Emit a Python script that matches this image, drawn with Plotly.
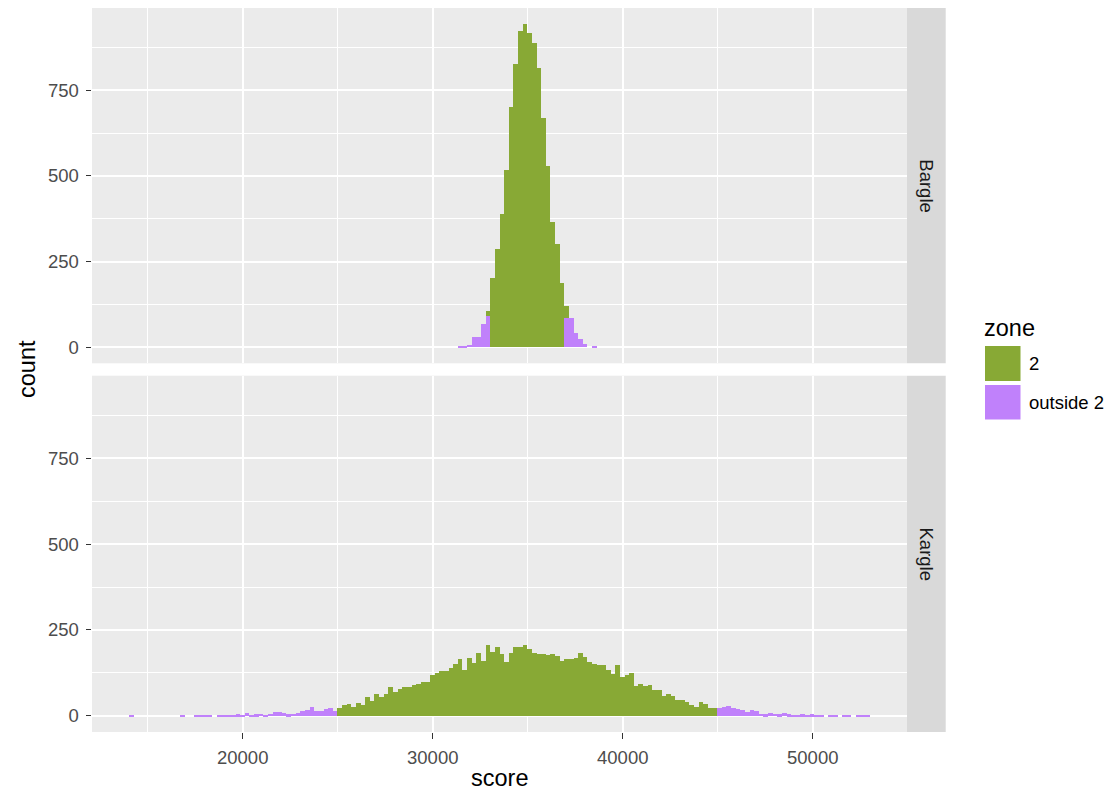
import numpy as np
import plotly.graph_objects as go

# ---------------- data ----------------
facets = ["Bargle", "Kargle"]
zones = ["2", "outside 2"]
zone_colors = {"2": "#88A935", "outside 2": "#C081FB"}

# histogram binning (160 bins shared by both facets)
BIN_START = 14018.0
BIN_WIDTH = 243.7
N_BINS = 160

# Bargle: counts for bins 71..100 (all other bins empty)
bargle_first_bin = 71
bargle_zone2 = [0, 0, 0, 0, 0, 0, 14, 203, 288, 390, 518, 701, 826, 923, 943,
                916, 888, 815, 669, 528, 365, 300, 188, 34, 0, 0, 0, 0, 0, 0]
bargle_outside = [2, 2, 6, 29, 29, 68, 92, 0, 0, 0, 0, 0, 0, 0, 0,
                  0, 0, 0, 0, 0, 0, 0, 0, 86, 84, 40, 23, 8, 0, 3]

# Kargle: zone "2" covers bins 45..126
kargle_zone2_first_bin = 45
kargle_zone2 = [23, 31, 36, 26, 38, 33, 55, 45, 63, 55,
                63, 85, 71, 80, 86, 86, 92, 93, 99, 98,
                120, 125, 130, 132, 140, 152, 165, 135, 169, 155,
                185, 159, 206, 187, 200, 180, 158, 185, 200, 200,
                208, 195, 185, 181, 181, 178, 180, 176, 160, 167,
                167, 170, 185, 172, 157, 153, 150, 148, 134, 124,
                148, 115, 119, 126, 88, 94, 88, 90, 77, 75,
                58, 63, 58, 48, 47, 42, 33, 26, 41, 36,
                24, 24]
# Kargle outside: left tail bins 0..44, right tail bins 127..159
kargle_outside_left = [1, 0, 0, 0, 0, 0, 0, 0, 0, 0,
                       0, 1, 0, 0, 1, 2, 1, 3, 0, 2,
                       2, 3, 3, 5, 2, 8, 4, 5, 6, 4,
                       7, 11, 11, 8, 5, 6, 8, 15, 17, 27,
                       16, 16, 20, 24, 14]
kargle_outside_right_first_bin = 127
kargle_outside_right = [24, 26, 28, 24, 21, 17, 12, 19, 15, 7,
                        5, 10, 7, 5, 10, 5, 2, 2, 5, 2,
                        5, 2, 2, 0, 2, 2, 0, 1, 1, 0,
                        1, 1, 1]

x_major_ticks = [20000, 30000, 40000, 50000]
y_major_ticks = [0, 250, 500, 750]


def full(first, vals):
    arr = np.zeros(N_BINS)
    arr[first:first + len(vals)] = vals
    return arr


series = {
    "Bargle": {"2": full(bargle_first_bin, bargle_zone2),
               "outside 2": full(bargle_first_bin, bargle_outside)},
    "Kargle": {"2": full(kargle_zone2_first_bin, kargle_zone2),
               "outside 2": full(0, kargle_outside_left)
               + full(kargle_outside_right_first_bin, kargle_outside_right)},
}

centers = BIN_START + BIN_WIDTH * (np.arange(N_BINS) + 0.5)

# ---------------- figure ----------------
W, H = 1116, 800
ML, MR, MT, MB = 92, 209, 8, 68
PW, PH = W - ML - MR, H - MT - MB


def px_x(px):
    return (px - ML) / PW


def px_y(py):
    return (H - MB - py) / PH


top_dom = [px_y(363.3), 1.0]
bot_dom = [0.0, px_y(375.7)]

fig = go.Figure()
axis_for = {"Bargle": ("x2", "y2"), "Kargle": ("x", "y")}
for f in facets:
    xa, ya = axis_for[f]
    for z in ["outside 2", "2"]:  # outside at bottom, "2" stacked on top
        fig.add_trace(go.Bar(
            x=centers, y=series[f][z], width=BIN_WIDTH, name=z,
            marker=dict(color=zone_colors[z], line=dict(width=0)),
            xaxis=xa, yaxis=ya, showlegend=False,
            hovertemplate="score %{x:.0f}<br>count %{y}<extra>" + z + "</extra>"))

span = BIN_WIDTH * N_BINS
x_range = [BIN_START - 0.05 * span, BIN_START + 1.05 * span]
ymax = max(max(series[f]["2"] + series[f]["outside 2"]) for f in facets)
y_range = [-0.05 * ymax, 1.05 * ymax]

tick_font = dict(family="Liberation Sans, Arial, sans-serif", size=18.5, color="#4D4D4D")
grid_common = dict(showgrid=True, gridcolor="white", gridwidth=1.6,
                   zeroline=False, showline=False)

xcommon = dict(range=x_range, tickmode="array", tickvals=x_major_ticks,
               tickformat="d",
               minor=dict(tickmode="array",
                          tickvals=[v - 5000 for v in x_major_ticks] + [x_major_ticks[-1] + 5000],
                          showgrid=True, gridcolor="white", gridwidth=0.8, ticks=""),
               **grid_common)
ycommon = dict(range=y_range, tickmode="array", tickvals=y_major_ticks,
               ticks="outside", ticklen=5.5, tickwidth=1.2, tickcolor="#333333",
               tickfont=tick_font, ticklabelstandoff=3,
               minor=dict(tickmode="array",
                          tickvals=[v + 125 for v in y_major_ticks],
                          showgrid=True, gridcolor="white", gridwidth=0.8, ticks=""),
               **grid_common)

fig.update_layout(
    width=W, height=H,
    margin=dict(l=ML, r=MR, t=MT, b=MB, pad=0),
    paper_bgcolor="white", plot_bgcolor="#EBEBEB",
    barmode="stack", bargap=0,
    showlegend=False,
    font=dict(family="Liberation Sans, Arial, sans-serif", color="black"),
    xaxis=dict(domain=[0, 1], anchor="y", ticks="outside", ticklen=5.5,
               tickwidth=1.2, tickcolor="#333333", tickfont=tick_font,
               ticklabelstandoff=3, **xcommon),
    xaxis2=dict(domain=[0, 1], anchor="y2", matches="x", showticklabels=False,
                ticks="", **xcommon),
    yaxis=dict(domain=bot_dom, anchor="x", **ycommon),
    yaxis2=dict(domain=top_dom, anchor="x2", matches="y", **ycommon),
)

# facet strips
strip_x0, strip_x1 = 1.0, px_x(945.7)
for f, dom in [("Bargle", top_dom), ("Kargle", bot_dom)]:
    fig.add_shape(type="rect", xref="paper", yref="paper",
                  x0=strip_x0, x1=strip_x1, y0=dom[0], y1=dom[1],
                  fillcolor="#D9D9D9", line=dict(width=0), layer="below")
    fig.add_annotation(xref="paper", yref="paper",
                       x=(strip_x0 + strip_x1) / 2, y=(dom[0] + dom[1]) / 2,
                       text=f, textangle=90, showarrow=False,
                       xanchor="center", yanchor="middle",
                       font=dict(size=18.5, color="#1A1A1A"))

# axis titles
fig.add_annotation(xref="paper", yref="paper", x=px_x(27), y=px_y(369),
                   text="count", textangle=-90, showarrow=False,
                   xanchor="center", yanchor="middle",
                   font=dict(size=23.5, color="black"))
fig.add_annotation(xref="paper", yref="paper", x=0.5, y=px_y(778),
                   text="score", showarrow=False,
                   xanchor="center", yanchor="middle",
                   font=dict(size=23.5, color="black"))

# legend (drawn manually to get ggplot-sized keys)
fig.add_annotation(xref="paper", yref="paper", x=px_x(982), y=px_y(328),
                   text="zone", showarrow=False, xanchor="left", yanchor="middle",
                   font=dict(size=23.5, color="black"))
key_rows = [("2", 346, 381), ("outside 2", 385, 419.5)]
for z, ytop, ybot in key_rows:
    fig.add_shape(type="rect", xref="paper", yref="paper",
                  x0=px_x(985), x1=px_x(1020.5), y0=px_y(ybot), y1=px_y(ytop),
                  fillcolor=zone_colors[z], line=dict(width=0))
    fig.add_annotation(xref="paper", yref="paper", x=px_x(1026.5),
                       y=px_y((ytop + ybot) / 2), text=z, showarrow=False,
                       xanchor="left", yanchor="middle",
                       font=dict(size=18.5, color="black"))

fig.write_html("out.html",
               config={"displayModeBar": False},
               post_script="document.body.style.margin='0';"
                           "document.body.style.padding='0';")
